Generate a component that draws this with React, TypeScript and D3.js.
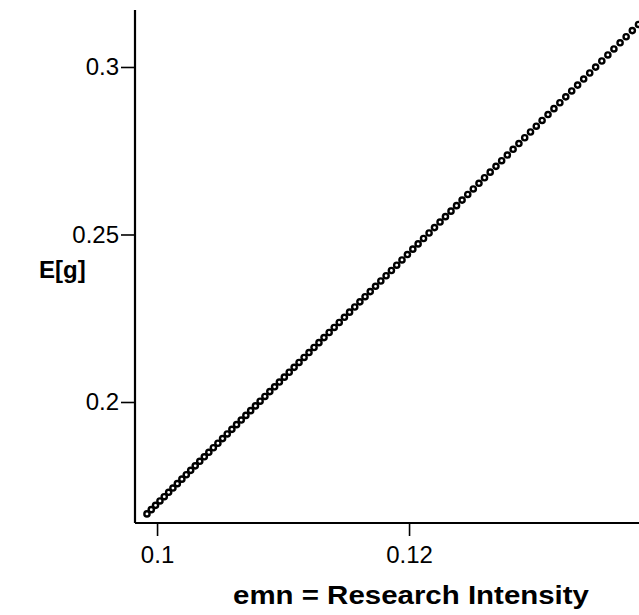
import React, { useEffect, useRef } from 'react';
import * as d3 from 'd3';

// emn (research intensity) values
const emnValues = [
  0.09920, 0.09954, 0.09988, 0.10023, 0.10057, 0.10092, 0.10126, 0.10161, 0.10197, 0.10232,
  0.10267, 0.10303, 0.10339, 0.10375, 0.10411, 0.10447, 0.10483, 0.10520, 0.10557, 0.10594,
  0.10631, 0.10668, 0.10705, 0.10743, 0.10781, 0.10818, 0.10856, 0.10895, 0.10933, 0.10971,
  0.11010, 0.11049, 0.11088, 0.11127, 0.11167, 0.11206, 0.11246, 0.11285, 0.11325, 0.11366,
  0.11406, 0.11446, 0.11487, 0.11528, 0.11569, 0.11610, 0.11651, 0.11692, 0.11734, 0.11776,
  0.11818, 0.11860, 0.11902, 0.11944, 0.11987, 0.12030, 0.12072, 0.12115, 0.12159, 0.12202,
  0.12246, 0.12289, 0.12333, 0.12377, 0.12421, 0.12466, 0.12510, 0.12555, 0.12599, 0.12644,
  0.12690, 0.12735, 0.12780, 0.12826, 0.12872, 0.12918, 0.12964, 0.13010, 0.13056, 0.13103,
  0.13150, 0.13197, 0.13244, 0.13291, 0.13338, 0.13386, 0.13434, 0.13481, 0.13530, 0.13578,
  0.13626, 0.13675, 0.13723, 0.13772, 0.13821
];

// E[g] values
const egValues = [
  0.16660, 0.16787, 0.16915, 0.17046, 0.17173, 0.17304, 0.17432, 0.17563, 0.17697, 0.17828,
  0.17960, 0.18094, 0.18229, 0.18364, 0.18499, 0.18634, 0.18768, 0.18907, 0.19046, 0.19184,
  0.19323, 0.19461, 0.19600, 0.19742, 0.19884, 0.20023, 0.20165, 0.20311, 0.20454, 0.20596,
  0.20742, 0.20888, 0.21034, 0.21180, 0.21330, 0.21476, 0.21626, 0.21772, 0.21922, 0.22075,
  0.22225, 0.22375, 0.22528, 0.22682, 0.22836, 0.22989, 0.23143, 0.23296, 0.23453, 0.23611,
  0.23768, 0.23925, 0.24083, 0.24240, 0.24401, 0.24562, 0.24719, 0.24880, 0.25045, 0.25206,
  0.25371, 0.25532, 0.25697, 0.25861, 0.26026, 0.26195, 0.26360, 0.26528, 0.26693, 0.26861,
  0.27034, 0.27202, 0.27371, 0.27543, 0.27715, 0.27888, 0.28060, 0.28232, 0.28404, 0.28580,
  0.28756, 0.28932, 0.29108, 0.29284, 0.29460, 0.29640, 0.29820, 0.29996, 0.30179, 0.30359,
  0.30539, 0.30722, 0.30902, 0.31086, 0.31269
];

const xTicks = [0.1, 0.12];
const yTicks = [0.2, 0.25, 0.3];

const xTitle = 'emn = Research Intensity';
const yTitle = 'E[g]';

export default function App() {
  const ref = useRef<SVGSVGElement>(null);

  useEffect(() => {
    const width = 639,
      height = 615;
    const svg = d3.select(ref.current);
    svg.selectAll('*').remove();

    const x = d3.scaleLinear().domain([0.09825, 0.13833]).range([135, 640]);
    const y = d3.scaleLinear().domain([0.16388, 0.31701]).range([523, 10]);

    const font = '"Liberation Sans", Arial, Helvetica, sans-serif';

    // axes
    const xAxis = svg.append('g')
      .attr('transform', 'translate(0,523)')
      .call(d3.axisBottom(x).tickValues(xTicks).tickSize(13).tickPadding(10).tickFormat(d3.format('')));
    xAxis.select('.domain').attr('d', `M${x.range()[0]},0H${width}`).attr('stroke-width', 2.2);
    xAxis.selectAll('.tick line').attr('stroke-width', 1.6);
    xAxis.selectAll('.tick text')
      .attr('font-family', font).attr('font-size', 24).attr('fill', '#000');

    const yAxis = svg.append('g')
      .attr('transform', 'translate(135,0)')
      .call(d3.axisLeft(y).tickValues(yTicks).tickSize(14).tickPadding(2).tickFormat(d3.format('')));
    yAxis.select('.domain').attr('d', `M0,${y.range()[0]}V${y.range()[1]}`).attr('stroke-width', 2.2);
    yAxis.selectAll('.tick line').attr('stroke-width', 1.6);
    yAxis.selectAll('.tick text')
      .attr('font-family', font).attr('font-size', 24).attr('fill', '#000');

    // points
    const data = emnValues.map((v, i) => [v, egValues[i]]);
    svg.append('g')
      .selectAll('circle')
      .data(data)
      .enter().append('circle')
      .attr('cx', (d) => x(d[0]))
      .attr('cy', (d) => y(d[1]))
      .attr('r', 2.6)
      .attr('fill', '#fff')
      .attr('stroke', '#000')
      .attr('stroke-width', 2.4);

    // titles
    svg.append('text')
      .attr('x', 233).attr('y', 604)
      .attr('textLength', 356).attr('lengthAdjust', 'spacingAndGlyphs')
      .attr('font-family', font).attr('font-weight', 'bold').attr('font-size', 25)
      .text(xTitle);

    svg.append('text')
      .attr('x', 39).attr('y', 278)
      .attr('font-family', font).attr('font-weight', 'bold').attr('font-size', 24)
      .text(yTitle);

    svg.attr('width', width).attr('height', height);
  }, []);

  return (
    <svg ref={ref} width={639} height={615}
      style={{ position: 'absolute', left: 0, top: 0, background: '#fff' }} />
  );
}
